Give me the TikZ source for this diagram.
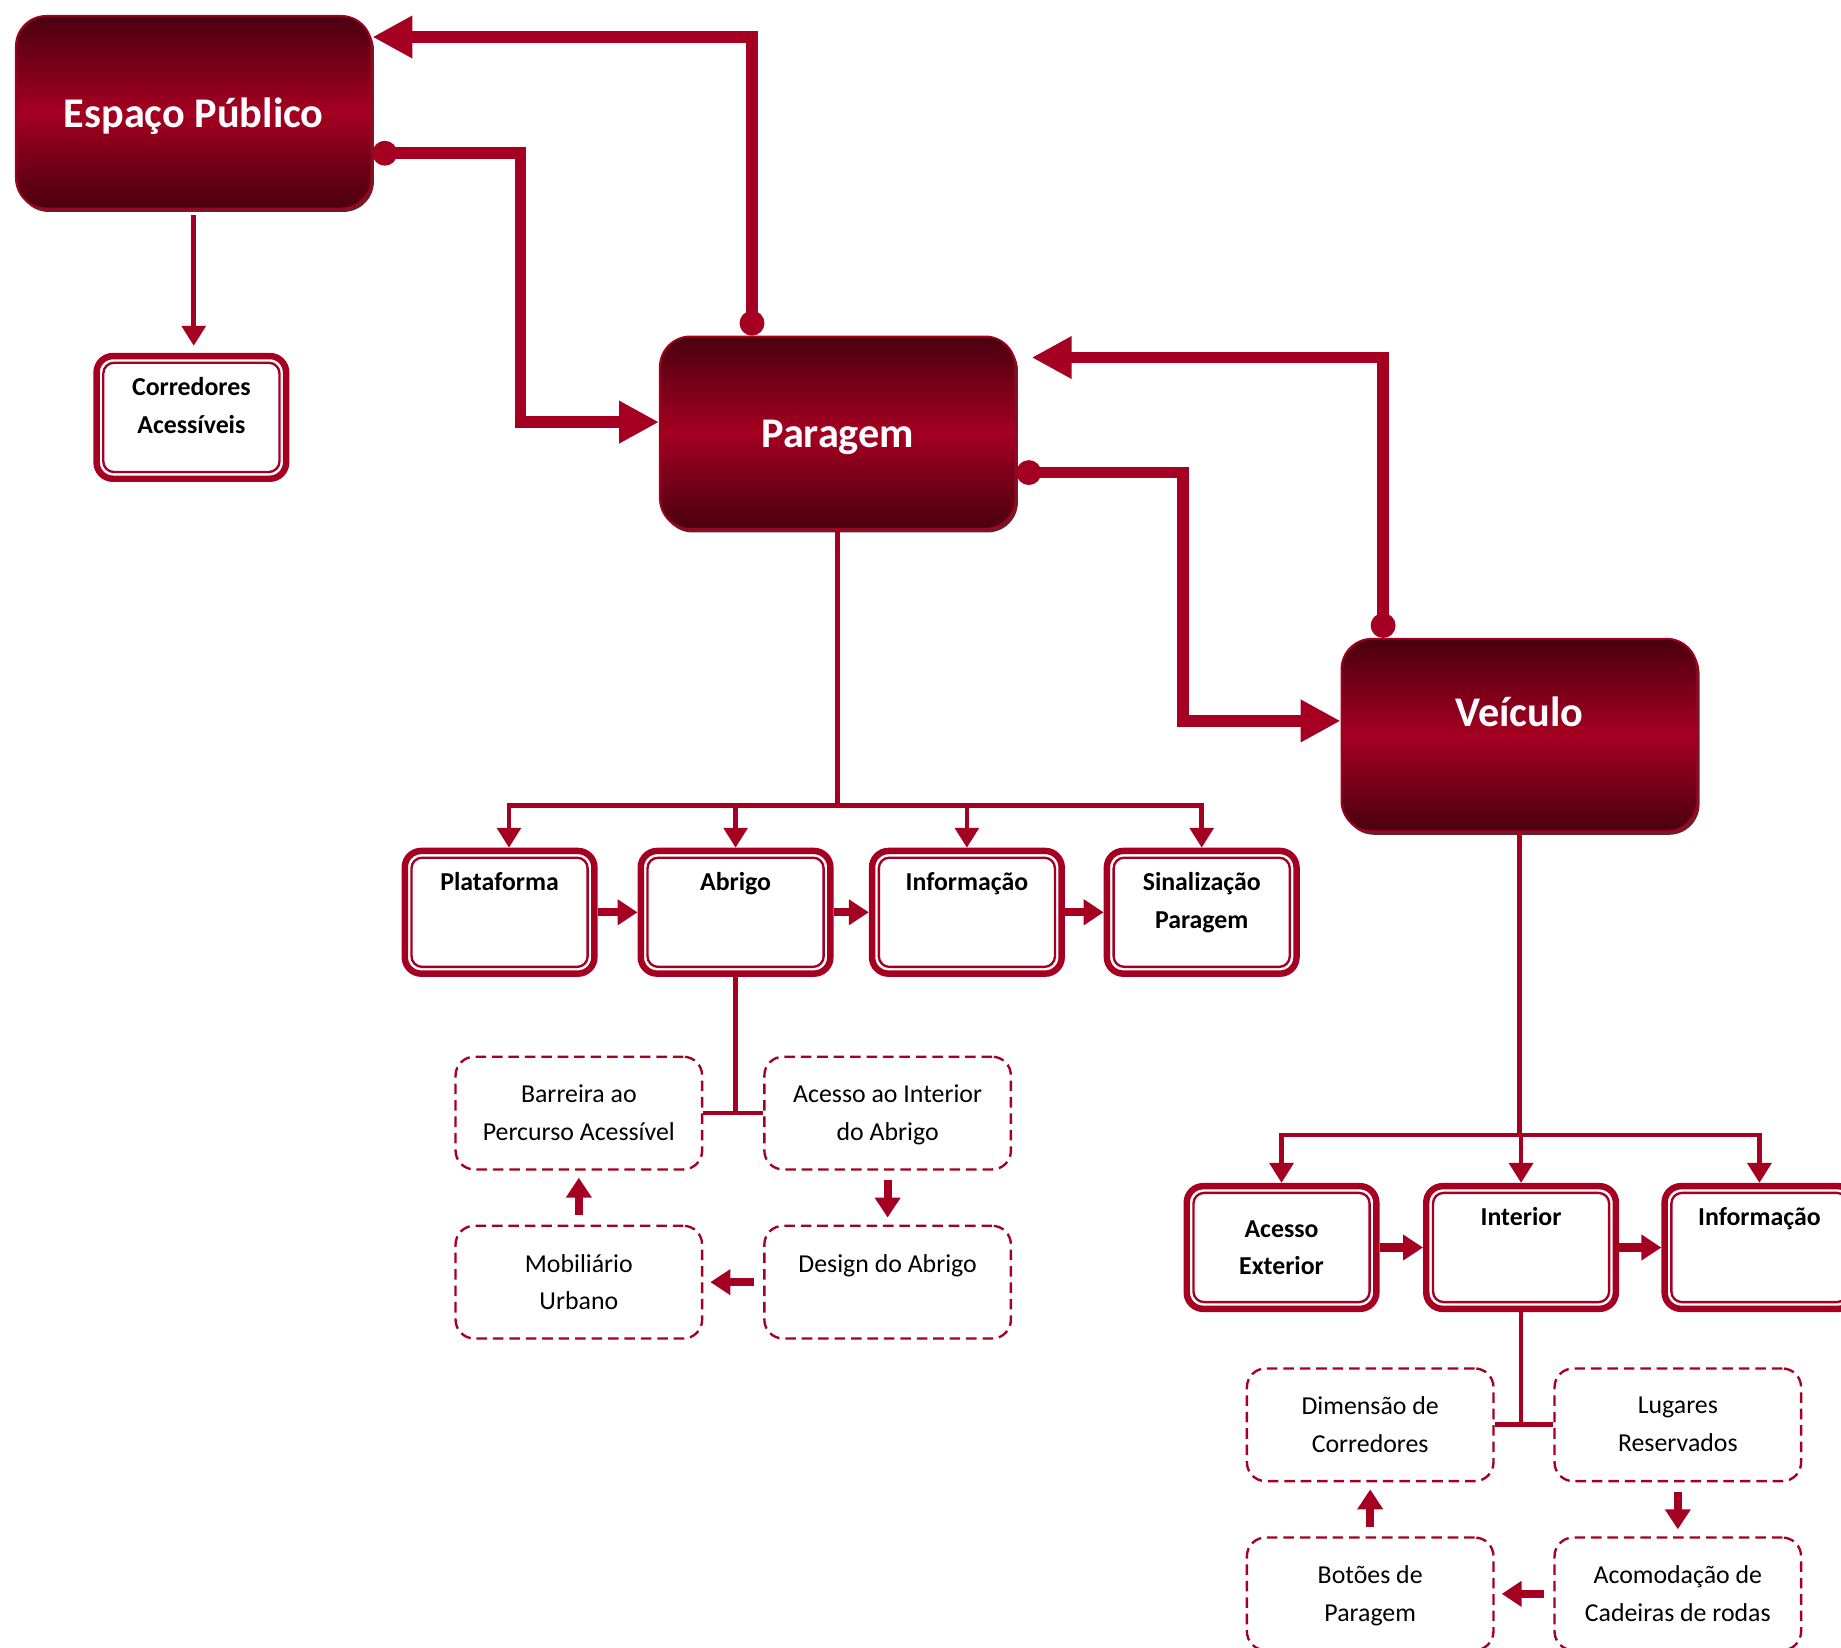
\documentclass[tikz,border=0pt]{standalone}
\usepackage{fontspec}
\setmainfont{Carlito}
\usepackage{tikz}
\usetikzlibrary{arrows.meta,positioning,calc,shadows}
\definecolor{wine}{HTML}{A50021}
\definecolor{winedark}{HTML}{4A000F}
\definecolor{wineshade}{HTML}{6B1E28}
\newcommand{\bigtxt}{\fontsize{36}{40}\selectfont\bfseries}
\newcommand{\boldtxt}{\fontsize{22}{32}\selectfont\bfseries}
\newcommand{\regtxt}{\fontsize{22}{32}\selectfont}

\begin{document}
\begin{tikzpicture}[x=1pt,y=1pt,
bigbox/.style={draw=wine,line width=1.5pt,rounded corners=26pt,top color=winedark,bottom color=winedark,middle color=wine,minimum width=303pt,minimum height=164pt,text=white,font=\bigtxt,text height=30pt,text depth=4pt,drop shadow={shadow xshift=2pt,shadow yshift=-3pt,fill=wineshade,opacity=1}},
dblbox/.style={draw=wine,line width=5.5pt,rounded corners=14pt,fill=white,minimum width=161.5pt,minimum height=104.5pt,inner sep=0pt,align=center,font=\boldtxt},
inframe/.style={draw=wine,line width=2pt,rounded corners=9pt},
dashbox/.style={draw=wine,line width=2pt,dash pattern=on 9pt off 5pt,rounded corners=16pt,minimum width=210pt,minimum height=96pt},
lbl/.style={anchor=north,inner sep=0pt,align=center},
btext/.style={label={[lbl,font=\boldtxt,yshift=-21pt]north:{#1}}},
rtext/.style={label={[lbl,font=\regtxt,yshift=-25pt]north:{#1}}},
link/.style={draw=wine,line width=10pt,arrows={Circle[length=21pt,width=21pt]-Triangle[length=34pt,width=34pt]}},
tree/.style={draw=wine,line width=4pt},
branch/.style={tree,-{Triangle[length=17pt,width=20pt]}},
flow/.style={draw=wine,line width=7pt,-{Triangle[length=17pt,width=21pt]}}]
\useasboundingbox (0,0) rectangle (1568,-1403);
\clip (0,0) rectangle (1568,-1403);
\node[bigbox] (espaco) at (165,-95.5) {Espaço Público};
\node[bigbox] (paragem) at (713.5,-368.5) {Paragem};
\node[bigbox,text height=20pt,text depth=34pt] (veiculo) at (1294,-626) {Veículo};
\node[dblbox,btext={Corredores\\Acessíveis}] (corr) at (163,-355.5) {};
\node[dblbox,btext=Plataforma] (plat) at (425.5,-777) {};
\node[dblbox,btext=Abrigo,right=34pt of plat] (abr) {};
\node[dblbox,btext=Informação,right=30pt of abr] (info) {};
\node[dblbox,btext={Sinalização\\Paragem},right=33pt of info] (sina) {};
\node[dashbox,rtext={Acesso ao Interior\\do Abrigo}] (acint) at (756,-948) {};
\node[dashbox,rtext={Barreira ao\\Percurso Acessível},left=51pt of acint] (barr) {};
\node[dashbox,rtext=Design do Abrigo,below=46pt of acint] (design) {};
\node[dashbox,rtext={Mobiliário\\Urbano},below=46pt of barr] (mob) {};
\node[dblbox] (acext) at (1091.5,-1062.5) {Acesso\\Exterior};
\node[dblbox,btext=Interior,right=37pt of acext] (inter) {};
\node[dblbox,btext=Informação,right=36pt of inter] (info2) {};
\node[dashbox,rtext={Lugares\\Reservados}] (lug) at (1429,-1213.5) {};
\node[dashbox,rtext={Dimensão de\\Corredores},left=50pt of lug] (dim) {};
\node[dashbox,rtext={Acomodação de\\Cadeiras de rodas},below=46pt of lug] (acom) {};
\node[dashbox,rtext={Botões de\\Paragem},below=46pt of dim] (bot) {};
\foreach \n in {corr,plat,abr,info,sina,acext,inter,info2}
  \draw[inframe] ($(\n.north west)+(8.5,-8.5)$) rectangle ($(\n.south east)+(-8.5,8.5)$);
\draw[link] ($(espaco.east)+(0,-35)$) -- ++(126,0) |- ($(paragem.west)+(0,9)$);
\draw[link] ($(paragem.north)+(-73,0)$) |- ($(espaco.east)+(0,64)$);
\draw[link] ($(paragem.east)+(0,-34)$) -- ++(142,0) |- ($(veiculo.west)+(0,12)$);
\draw[link,shorten >=13pt] ($(veiculo.north)+(-116,0)$) |- ($(paragem.east)+(0,64)$);
\draw[branch,shorten <=5pt,shorten >=6pt] (espaco.south) -- (espaco.south |- corr.north);
\draw[tree] (paragem.south) -- ++(0,-235) coordinate (pbus);
\draw[branch] (pbus) -| ($(plat.north)+(8,0)$);
\foreach \b in {abr,info,sina} \draw[branch] (pbus) -| (\b.north);
\foreach \a/\b in {plat/abr,abr/info,info/sina} \draw[flow] (\a) -- (\b);
\draw[tree] (abr.south) -- (abr.south |- barr.east);
\draw[tree] (barr.east) -- (acint.west);
\draw[flow,shorten <=8pt,shorten >=6pt] (acint) -- (design);
\draw[flow,shorten <=8pt,shorten >=6pt] (design) -- (mob);
\draw[flow,shorten <=8pt,shorten >=6pt] (mob) -- (barr);
\draw[tree] (veiculo.south) -- ++(0,-258) coordinate (vbus);
\foreach \b in {acext,inter,info2} \draw[branch] (vbus) -| (\b.north);
\foreach \a/\b in {acext/inter,inter/info2} \draw[flow] (\a) -- (\b);
\draw[tree] (inter.south) -- (inter.south |- lug.west);
\draw[tree] (dim.east) -- (lug.west);
\draw[flow,shorten <=8pt,shorten >=6pt] (lug) -- (acom);
\draw[flow,shorten <=8pt,shorten >=6pt] (acom) -- (bot);
\draw[flow,shorten <=8pt,shorten >=6pt] (bot) -- (dim);
\end{tikzpicture}
\end{document}
